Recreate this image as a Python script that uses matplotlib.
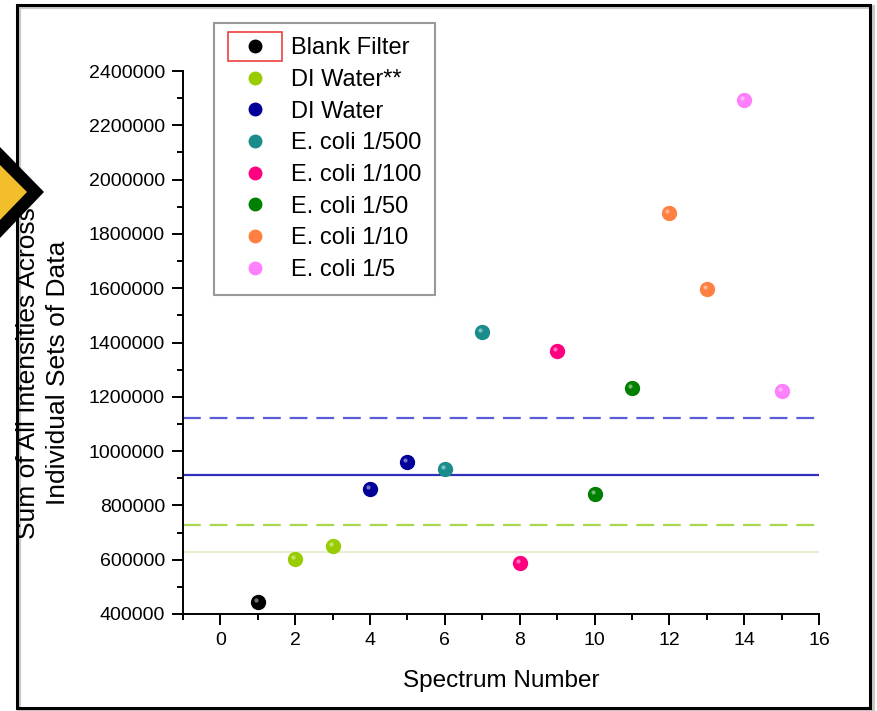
import matplotlib
matplotlib.use("Agg")
import matplotlib.pyplot as plt
import matplotlib.transforms as mtransforms
from matplotlib.patches import Rectangle, Polygon
from matplotlib.ticker import MultipleLocator

plt.rcParams['font.family'] = ['Liberation Sans', 'DejaVu Sans']

# series: name, spectrum numbers, summed intensities, colour
labels = ['Blank Filter', 'DI Water**', 'DI Water', 'E. coli 1/500',
          'E. coli 1/100', 'E. coli 1/50', 'E. coli 1/10', 'E. coli 1/5']
spectra = [[1], [2, 3], [4, 5], [6, 7], [8, 9], [10, 11], [12, 13], [14, 15]]
intensities = [[445000],
               [603000, 651000],
               [859000, 961000],
               [935000, 1438000],
               [587000, 1369000],
               [842000, 1231000],
               [1877000, 1597000],
               [2292000, 1222000]]
colors = ['#000000', '#99cc00', '#000099', '#1a8c8c',
          '#ff0080', '#008000', '#ff8040', '#ff80ff']

# reference levels
ref_levels = [1121000, 911000, 727000, 628000]
ref_colors = ['#5c5cd8', '#3030b8', '#a8d84a', '#e6f0d2']
ref_styles = [(0, (8, 4)), '-', (0, (8, 4)), '-']

fig = plt.figure(figsize=(8.77, 7.11), dpi=100)
ax = fig.add_axes([183 / 877, 97 / 711, 636 / 877, 543 / 711])

for lvl, c, ls in zip(ref_levels, ref_colors, ref_styles):
    ax.axhline(lvl, color=c, linestyle=ls, linewidth=1.6, zorder=1)

hl = mtransforms.offset_copy(ax.transData, fig=fig, x=-2, y=2, units='dots')
for name, xs, ys, c in zip(labels, spectra, intensities, colors):
    ax.plot(xs, ys, linestyle='none', marker='o', markersize=10,
            markerfacecolor=c, markeredgecolor=c, label=name, zorder=3)
    ax.plot(xs, ys, linestyle='none', marker='o', markersize=3,
            markerfacecolor='white', markeredgecolor='none', alpha=0.45,
            transform=hl, zorder=4)

ax.set_xlim(-1, 16)
ax.set_ylim(400000, 2400000)
ax.xaxis.set_major_locator(MultipleLocator(2))
ax.xaxis.set_minor_locator(MultipleLocator(1))
ax.yaxis.set_major_locator(MultipleLocator(200000))
ax.yaxis.set_minor_locator(MultipleLocator(100000))
ax.ticklabel_format(axis='y', style='plain', useOffset=False)

for s in ['top', 'right']:
    ax.spines[s].set_visible(False)
for s in ['left', 'bottom']:
    ax.spines[s].set_linewidth(1.4)
ax.tick_params(which='major', direction='out', length=8, width=1.4,
               labelsize=14, pad=5)
ax.tick_params(which='minor', direction='out', length=4, width=1.4)

fig.text(43 / 877, 1 - 373 / 711,
         'Sum of All Intensities Across\nIndividual Sets of Data',
         rotation=90, ha='center', va='center', multialignment='center',
         fontsize=19, linespacing=1.3)
fig.text(501 / 877, 1 - 681 / 711, 'Spectrum Number',
         ha='center', va='center', fontsize=17.5)

leg = ax.legend(loc='upper left', bbox_to_anchor=(214 / 877, 1 - 23 / 711),
                bbox_transform=fig.transFigure, borderaxespad=0,
                fontsize=17, frameon=True, fancybox=False, numpoints=1,
                borderpad=0.6, handlelength=2.26, handletextpad=0.39,
                labelspacing=0.41, markerscale=0.9)
leg.get_frame().set_edgecolor('#808080')
leg.get_frame().set_linewidth(1.5)

# selection box round the first legend entry
fig.patches.append(Rectangle((228 / 877, 1 - 61 / 711), 54 / 877, 29 / 711,
                             transform=fig.transFigure, fill=False,
                             edgecolor='#f04040', linewidth=1.2))

# screenshot frame and shadow
fig.patches.append(Rectangle((19 / 877, 1 - 711 / 711), 854 / 877, 704 / 711,
                             transform=fig.transFigure, fill=False,
                             edgecolor='#c8c8c8', linewidth=3))
fig.patches.append(Rectangle((17 / 877, 1 - 708 / 711), 853 / 877, 703 / 711,
                             transform=fig.transFigure, fill=False,
                             edgecolor='black', linewidth=2.2))

# yellow chevron on the left edge
fig.patches.append(Polygon([(0, 1 - 147 / 711), (44 / 877, 1 - 192 / 711),
                            (0, 1 - 238 / 711)], closed=True,
                           transform=fig.transFigure, facecolor='black',
                           edgecolor='none'))
fig.patches.append(Polygon([(0, 1 - 165 / 711), (27 / 877, 1 - 192 / 711),
                            (0, 1 - 220 / 711)], closed=True,
                           transform=fig.transFigure, facecolor='#f2be2c',
                           edgecolor='none'))

fig.savefig('out.png', dpi=100)
